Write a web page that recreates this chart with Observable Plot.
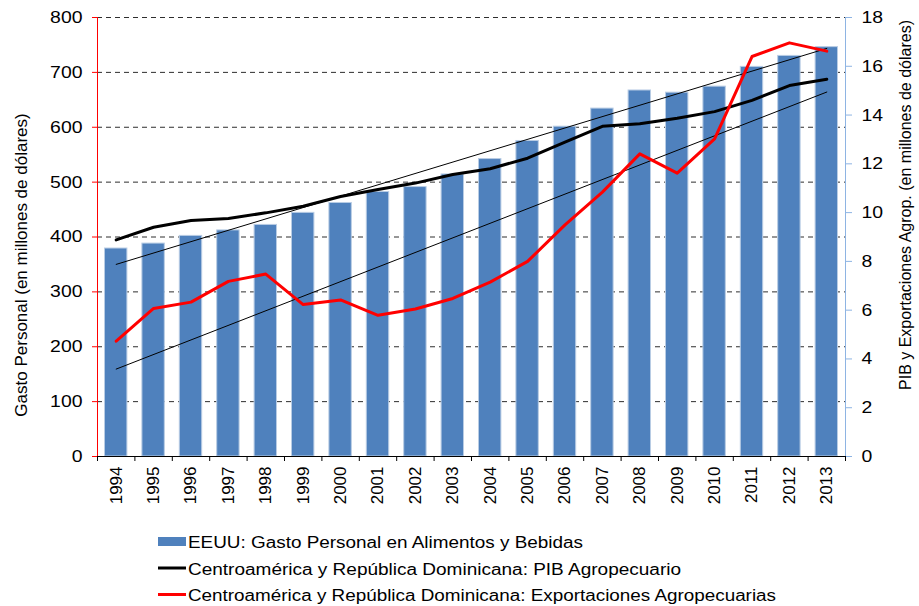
<!DOCTYPE html>
<html>
<head>
<meta charset="utf-8">
<script src="https://cdn.jsdelivr.net/npm/d3@7"></script>
<script src="https://cdn.jsdelivr.net/npm/@observablehq/plot@0.6"></script>
<style>
  body { margin: 0; background: #fff; font-family: "Liberation Sans", Arial, sans-serif; }
  #chart svg { display: block; }
</style>
</head>
<body>
<div id="chart"></div>
<script>
// ---- Data ----
const years = [1994, 1995, 1996, 1997, 1998, 1999, 2000, 2001, 2002, 2003,
               2004, 2005, 2006, 2007, 2008, 2009, 2010, 2011, 2012, 2013];
// EEUU: Gasto Personal en Alimentos y Bebidas (left axis)
const gastoEEUU = [379, 388, 402, 412, 422, 444, 462, 482, 491, 514,
                   542, 575, 601, 634, 667, 663, 674, 710, 730, 746];
// Centroamérica y Rep. Dominicana: PIB Agropecuario (right axis)
const pibAgro = [8.88, 9.40, 9.68, 9.76, 9.99, 10.26, 10.66, 10.95, 11.21, 11.56,
                 11.80, 12.23, 12.89, 13.54, 13.64, 13.87, 14.14, 14.60, 15.21, 15.47];
// Centroamérica y Rep. Dominicana: Exportaciones Agropecuarias (right axis)
const exportAgro = [4.73, 6.07, 6.33, 7.18, 7.48, 6.23, 6.42, 5.79, 6.05, 6.48,
                    7.15, 8.00, 9.50, 10.84, 12.41, 11.62, 13.02, 16.40, 16.96, 16.62];
const leftTicks = [0, 100, 200, 300, 400, 500, 600, 700, 800];
const rightTicks = [0, 2, 4, 6, 8, 10, 12, 14, 16, 18];
const leftTitle = "Gasto Personal (en millones de dólares)";
const rightTitle = "PIB y Exportaciones Agrop. (en millones de dólares)";
const legendLabels = [
  "EEUU: Gasto Personal en Alimentos y Bebidas",
  "Centroamérica y República Dominicana: PIB Agropecuario",
  "Centroamérica y República Dominicana: Exportaciones Agropecuarias"
];

// ---- Build ----
const k = leftTicks[leftTicks.length - 1] / rightTicks[rightTicks.length - 1]; // right -> left scale factor
const data = years.map((year, i) => ({year, gasto: gastoEEUU[i], pib: pibAgro[i], exp: exportAgro[i]}));
const boundaries = years.map(y => y - 0.5).concat([years[years.length - 1] + 0.5]);
const x0 = years[0] - 0.5, x1 = years[years.length - 1] + 0.5;

const plot = Plot.plot({
  width: 919,
  height: 525,
  marginTop: 17,
  marginBottom: 69,
  marginLeft: 97,
  marginRight: 74,
  style: {fontFamily: "'Liberation Sans', Arial, sans-serif", fontSize: "17px", color: "#000", background: "#fff"},
  x: {type: "linear", domain: [x0, x1], axis: null},
  y: {domain: [leftTicks[0], leftTicks[leftTicks.length - 1]], axis: null},
  marks: [
    Plot.ruleY(leftTicks.slice(1), {stroke: "#2e2e2e", strokeDasharray: "5,4", strokeWidth: 1}),
    Plot.rectY(data, {x1: d => d.year - 0.5, x2: d => d.year + 0.5, y: "gasto", fill: "#4f81bd",
                      stroke: "#b8cce4", strokeWidth: 1, insetLeft: 7.5, insetRight: 7.5}),
    Plot.linearRegressionY(data, {x: "year", y: "gasto", stroke: "#000", strokeWidth: 1, ci: 0}),
    Plot.linearRegressionY(data, {x: "year", y: d => d.exp * k, stroke: "#000", strokeWidth: 1, ci: 0}),
    Plot.line(data, {x: "year", y: d => d.pib * k, stroke: "#000", strokeWidth: 3}),
    Plot.line(data, {x: "year", y: d => d.exp * k, stroke: "#ff0000", strokeWidth: 3}),
    Plot.ruleY([0], {stroke: "#000", strokeWidth: 1}),
    Plot.ruleX([x0], {stroke: "#ff0000", strokeWidth: 1}),
    Plot.ruleX([x1], {stroke: "#8eb4e3", strokeWidth: 1}),
    Plot.axisY(leftTicks, {anchor: "left", tickSize: 5, tickPadding: 10, stroke: "#ff0000", label: null}),
    Plot.axisY(rightTicks.map(v => v * k), {anchor: "right", tickSize: 6, tickPadding: 10, stroke: "#8eb4e3",
                                            tickFormat: d => String(Math.round(d / k)), label: null}),
    Plot.axisX(boundaries, {anchor: "bottom", tickSize: 5, tickFormat: () => "", label: null}),
    Plot.axisX(years, {anchor: "bottom", tickSize: 0, tickRotate: -90, tickPadding: 10,
                       tickFormat: d => String(d), label: null})
  ]
});

const svg = d3.select(plot);
// widen the horizontal tick labels a little, as in the reference
svg.selectAll('g[aria-label="y-axis tick label"] text').each(function() {
  const t = d3.select(this);
  const s = t.text();
  t.attr("textLength", s.length * 10.8).attr("lengthAdjust", "spacingAndGlyphs");
});
svg.append("text")
  .attr("transform", "translate(23,265) rotate(-90)")
  .attr("text-anchor", "middle").attr("dominant-baseline", "middle")
  .attr("font-size", 17).attr("fill", "#000").text(leftTitle);
svg.append("text")
  .attr("transform", "translate(907,205) rotate(-90)")
  .attr("text-anchor", "middle").attr("dominant-baseline", "middle")
  .attr("font-size", 16).attr("fill", "#000").text(rightTitle);

document.getElementById("chart").appendChild(plot);

// ---- Legend (below the chart) ----
const legend = d3.select("#chart").append("svg")
  .attr("width", 919).attr("height", 81)
  .style("font-family", "'Liberation Sans', Arial, sans-serif");
const legendLens = [395, 493, 588];
const rowBase = [23, 49.5, 76];
legend.append("rect").attr("x", 158).attr("y", 12).attr("width", 28).attr("height", 9).attr("fill", "#4f81bd");
legend.append("line").attr("x1", 158).attr("x2", 186).attr("y1", 43).attr("y2", 43).attr("stroke", "#000").attr("stroke-width", 3);
legend.append("line").attr("x1", 158).attr("x2", 186).attr("y1", 69.5).attr("y2", 69.5).attr("stroke", "#ff0000").attr("stroke-width", 3);
legendLabels.forEach((t, i) => {
  legend.append("text").attr("x", 188).attr("y", rowBase[i])
    .attr("font-size", 16).attr("fill", "#000")
    .attr("textLength", legendLens[i]).attr("lengthAdjust", "spacingAndGlyphs")
    .text(t);
});
</script>
</body>
</html>
